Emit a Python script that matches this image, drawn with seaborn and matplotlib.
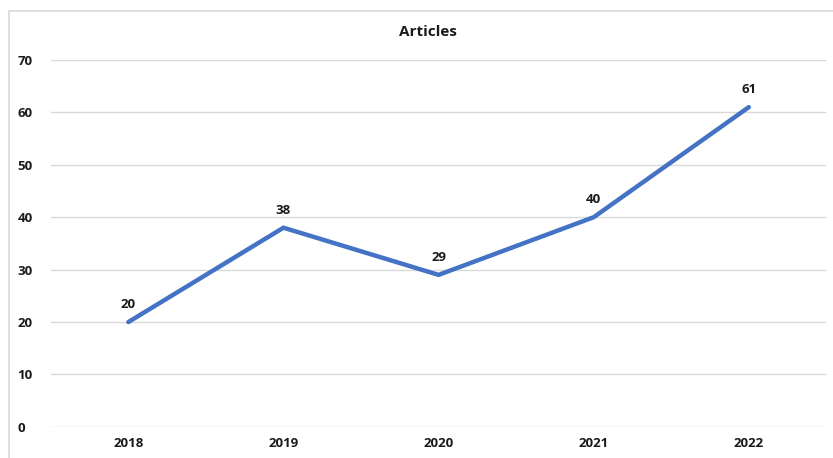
import matplotlib
matplotlib.use("Agg")
import matplotlib.pyplot as plt
import matplotlib.patches as mpatches
import seaborn as sns
import pandas as pd

years = ["2018", "2019", "2020", "2021", "2022"]
articles = [20, 38, 29, 40, 61]
y_ticks = [0, 10, 20, 30, 40, 50, 60, 70]

df = pd.DataFrame({"year": years, "articles": articles})

sns.set_theme(style="white")
plt.rcParams["font.family"] = ["Open Sans", "DejaVu Sans"]

fig = plt.figure(figsize=(8.33, 4.58), dpi=100)
ax = fig.add_axes([0.061, 0.068, 0.931, 0.801])

# chart frame
fig.patches.append(mpatches.Rectangle((9 / 833, -0.01), 1.0, 1 - 11 / 458 + 0.01,
                                      transform=fig.transFigure, fill=False,
                                      edgecolor="#d9d9d9", linewidth=1.2))

sns.lineplot(data=df, x="year", y="articles", ax=ax, color="#4472C4",
             linewidth=3.2, sort=False)

ax.set_xlim(-0.5, len(years) - 0.5)
ax.set_ylim(0, 70)
ax.set_yticks(y_ticks)
ax.yaxis.grid(True, color="#d9d9d9", linewidth=1.0)
ax.set_axisbelow(True)
for s in ax.spines.values():
    s.set_visible(False)
ax.tick_params(axis="both", length=0, labelsize=9.5, colors="#1a1a1a")
ax.tick_params(axis="y", pad=24)
ax.tick_params(axis="x", pad=7)
for lbl in ax.get_yticklabels():
    lbl.set_horizontalalignment("left")
for lbl in ax.get_xticklabels() + ax.get_yticklabels():
    lbl.set_fontweight("bold")
ax.set_xlabel("")
ax.set_ylabel("")

for i, v in enumerate(articles):
    ax.annotate(str(v), (i, v), xytext=(0, 8), textcoords="offset points",
                ha="center", va="bottom", fontsize=9.5, fontweight="bold",
                color="#1a1a1a")

fig.text(428 / 833, 1 - 32 / 458, "Articles", ha="center", va="center",
         fontsize=11, fontweight="bold", color="#1a1a1a")

fig.savefig("out.png", dpi=100, facecolor="white")
